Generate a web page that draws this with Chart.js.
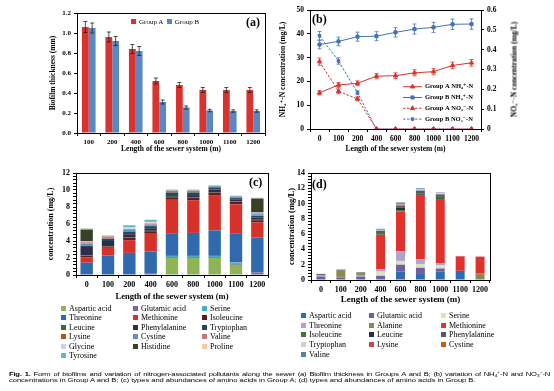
<!DOCTYPE html>
<html>
<head>
<meta charset="utf-8">
<script src="https://cdn.jsdelivr.net/npm/chart.js@4.4.1/dist/chart.umd.min.js"></script>
<style>
  body { margin: 0; width: 554px; height: 391px; background: #fff; position: relative; overflow: hidden;
         font-family: "Liberation Serif", "DejaVu Serif", serif; color: #000; }
  canvas { position: absolute; }
  .tag { position: absolute; font-weight: bold; font-size: 12px; line-height: 12px; }
  .legend { position: absolute; display: grid; font-size: 8px; line-height: 9.6px; white-space: nowrap; }
  .m { display: inline-block; width: 5px; height: 5px; margin-right: 3px; }
  .legA { position: absolute; font-size: 7px; line-height: 8px; white-space: nowrap; }
  .ytitle { position: absolute; font-weight: bold; font-size: 7.5px; text-align: center; white-space: nowrap; transform: rotate(-90deg); }
  .caption { position: absolute; left: 9px; width: 541px; font-family: "Liberation Sans", sans-serif; font-size: 7.6px; line-height: 7px;
             white-space: nowrap; transform: scaleY(0.82); transform-origin: top left; }
</style>
</head>
<body>
<canvas id="chartA" width="277" height="158" style="left:0;top:0"></canvas>
<canvas id="chartB" width="277" height="158" style="left:277px;top:0"></canvas>
<canvas id="chartC" width="277" height="146" style="left:0;top:160px"></canvas>
<canvas id="chartD" width="277" height="150" style="left:277px;top:160px"></canvas>

<div class="tag" style="left:246px;top:16px">(a)</div>
<div class="tag" style="left:312px;top:13px">(b)</div>
<div class="tag" style="left:249px;top:176px">(c)</div>
<div class="tag" style="left:312px;top:178px">(d)</div>

<div class="legA" style="left:131px;top:18px"><span class="m" style="background:#d9332f"></span>Group A&nbsp;&nbsp;<span class="m" style="background:#5b87c3"></span>Group B</div>
<div class="ytitle" style="left:449px;top:65px;width:130px">NO₃⁻-N concentration (mg/L)</div>

<div id="legendC" class="legend" style="left:61px;top:303.5px;grid-template-columns:72px 69px 70px"></div>
<div id="legendD" class="legend" style="left:301px;top:310.8px;grid-template-columns:68px 72px 80px;line-height:9.8px"></div>

<div class="caption" style="top:371px;text-align:justify;text-align-last:justify;white-space:normal;letter-spacing:-0.2px"><b>Fig. 1.</b> Form of biofilms and variation of nitrogen-associated pollutants along the sewer (a) Biofilm thickness in Groups A and B; (b) variation of NH₄⁺-N and NO₃⁻-N</div>
<div class="caption" style="top:377px;letter-spacing:-0.05px">concentrations in Group A and B; (c) types and abundances of amino acids in Group A; (d) types and abundances of amino acids in Group B.</div>

<script>
// ---- data ----
const lengthsA = ['100', '200', '400', '600', '800', '1000', '1100', '1200'];
const thicknessA = [1.06, 0.96, 0.84, 0.52, 0.48, 0.43, 0.43, 0.43];
const thicknessErrA = [0.055, 0.05, 0.045, 0.03, 0.025, 0.025, 0.025, 0.025];
const thicknessB = [1.05, 0.92, 0.82, 0.31, 0.255, 0.225, 0.22, 0.22];
const thicknessErrB = [0.05, 0.045, 0.045, 0.02, 0.015, 0.012, 0.012, 0.012];

const lengths = ['0', '100', '200', '400', '600', '800', '1000', '1100', '1200'];
const nh4A = [15.2, 18.5, 19.2, 22.2, 22.4, 23.6, 24.1, 26.7, 27.8];
const nh4ErrA = [0.9, 1.0, 1.0, 1.1, 1.2, 1.3, 1.3, 1.4, 1.4];
const nh4B = [35.5, 36.8, 38.8, 39.0, 40.6, 42.0, 42.7, 44.0, 44.1];
const nh4ErrB = [1.8, 1.8, 1.9, 1.9, 2.0, 2.1, 2.1, 2.2, 2.2];
const no3A = [0.34, 0.19, 0.152, 0, 0, 0, 0, 0, 0];
const no3ErrA = [0.018, 0.012, 0.01, 0, 0, 0, 0, 0, 0];
const no3B = [0.47, 0.343, 0.183, 0, 0, 0, 0, 0, 0];
const no3ErrB = [0.022, 0.016, 0.01, 0, 0, 0, 0, 0, 0];

// (c) amino acids, Group A
const cAspartic = [0, 0, 0, 0, 2.0, 2.0, 2.0, 1.2, 0];
const cGlutamic = [0, 0, 0, 0.15, 0.1, 0.1, 0.1, 0.1, 0.3];
const cSerine = [0, 0, 0, 0, 0.15, 0.15, 0.15, 0.2, 0];
const cThreonine = [1.45, 2.3, 2.6, 2.6, 2.6, 2.7, 3.0, 3.35, 4.1];
const cMethionine = [0.6, 0.9, 1.5, 2.1, 4.0, 3.85, 4.15, 3.45, 1.8];
const cIsoleucine = [0.2, 0.15, 0.3, 0.3, 0.3, 0.3, 0.3, 0.3, 0.25];
const cLeucine = [0.05, 0.05, 0.05, 0.05, 0.05, 0.05, 0.05, 0.05, 0.05];
const cPhenylalanine = [1.0, 0.6, 0.35, 0.3, 0.2, 0.25, 0.3, 0.2, 0.25];
const cTryptophan = [0.15, 0.25, 0.3, 0.25, 0.3, 0.3, 0.25, 0.2, 0.2];
const cLysine = [0.05, 0.05, 0.05, 0.05, 0.05, 0.05, 0.05, 0.05, 0.05];
const cCystine = [0.2, 0.15, 0.15, 0.15, 0.15, 0.15, 0.1, 0.15, 0.15];
const cValine = [0.15, 0.1, 0.1, 0.1, 0.05, 0.05, 0.05, 0.05, 0.1];
const cGlycine = [0.1, 0.05, 0.1, 0.1, 0.05, 0.05, 0.05, 0, 0.1];
const cHistidine = [1.4, 0, 0, 0, 0, 0, 0, 0, 1.65];
const cProline = [0.1, 0.1, 0.1, 0.1, 0.1, 0.1, 0.05, 0.05, 0.1];
const cTyrosine = [0.05, 0, 0.25, 0.25, 0, 0, 0, 0, 0];

// (d) amino acids, Group B
const dAspartic = [0, 0, 0, 0, 1.1, 0.9, 1.1, 1.2, 0];
const dGlutamic = [0.45, 0.35, 0.45, 0.55, 0.9, 0.7, 0.4, 0, 0];
const dSerine = [0, 0, 0, 0.55, 0.5, 0.5, 0.4, 0, 0];
const dThreonine = [0.1, 0.05, 0.2, 0.3, 1.25, 0.6, 0.3, 0, 0];
const dAlanine = [0.05, 0.8, 0.15, 0, 0, 0, 0, 0, 0.9];
const dMethionine = [0, 0, 0, 4.5, 5.2, 8.3, 8.4, 1.9, 2.15];
const dIsoleucine = [0.05, 0.05, 0.05, 0.1, 0.2, 0.15, 0.15, 0, 0];
const dLeucine = [0.05, 0.05, 0.05, 0.1, 0.3, 0.15, 0.15, 0, 0];
const dPhenylalanine = [0.1, 0.05, 0.1, 0.35, 0.3, 0.4, 0.3, 0, 0];
const dTryptophan = [0, 0.05, 0, 0.1, 0.1, 0.2, 0.15, 0.05, 0.05];
const dLysine = [0, 0, 0, 0.05, 0.1, 0, 0.05, 0, 0];
const dCystine = [0, 0, 0, 0.05, 0.1, 0, 0, 0, 0];
const dValine = [0, 0, 0, 0.05, 0.1, 0.1, 0.05, 0, 0];

const seriesC = [
    ['Aspartic acid', cAspartic, '#8fb457'], ['Glutamic acid', cGlutamic, '#7a63a6'], ['Serine', cSerine, '#4bacc6'],
    ['Threonine', cThreonine, '#2e6aad'], ['Methionine', cMethionine, '#d7312b'], ['Isoleucine', cIsoleucine, '#5e1f1f'],
    ['Leucine', cLeucine, '#3e6b32'], ['Phenylalanine', cPhenylalanine, '#2f2c4e'], ['Tryptophan', cTryptophan, '#1d4d5a'],
    ['Lysine', cLysine, '#b5551d'], ['Cystine', cCystine, '#6b8cbf'], ['Valine', cValine, '#c27a78'],
    ['Glycine', cGlycine, '#c5d4e8'], ['Histidine', cHistidine, '#3a3f28'], ['Proline', cProline, '#f8c9a0'],
    ['Tyrosine', cTyrosine, '#5fb8c9']
];
const seriesD = [
    ['Aspartic acid', dAspartic, '#2e6bb0'], ['Glutamic acid', dGlutamic, '#6f5ea3'], ['Serine', dSerine, '#d8e6c0'],
    ['Threonine', dThreonine, '#b2a3cc'], ['Alanine', dAlanine, '#8a8a4a'], ['Methionine', dMethionine, '#e0312c'],
    ['Isoleucine', dIsoleucine, '#3f7a30'], ['Leucine', dLeucine, '#2b2a4f'], ['Phenylalanine', dPhenylalanine, '#595959'],
    ['Tryptophan', dTryptophan, '#d0d0d0'], ['Lysine', dLysine, '#c24b48'], ['Cystine', dCystine, '#c0601c'],
    ['Valine', dValine, '#4f81bd']
];

// ---- helpers ----
Chart.defaults.font.family = '"Liberation Serif", "DejaVu Serif", serif';
Chart.defaults.font.weight = 'bold';
Chart.defaults.color = '#000';
Chart.defaults.animation = false;
Chart.defaults.plugins.legend.display = false;
Chart.defaults.plugins.tooltip.enabled = false;

const fixW = w => s => { s.width = w; };
const fixH = h => s => { s.height = h; };

const plotBox = {
    id: 'plotBox',
    afterDraw(chart) {
        const a = chart.chartArea, ctx = chart.ctx;
        ctx.save();
        ctx.strokeStyle = '#000';
        ctx.lineWidth = 1;
        ctx.strokeRect(a.left + 0.5, a.top + 0.5, a.right - a.left, a.bottom - a.top);
        ctx.restore();
    }
};

const errorBars = {
    id: 'errorBars',
    afterDatasetsDraw(chart) {
        const ctx = chart.ctx;
        chart.data.datasets.forEach((ds, i) => {
            if (!ds.errors) return;
            const meta = chart.getDatasetMeta(i);
            const sc = chart.scales[meta.yAxisID];
            ctx.save();
            ctx.strokeStyle = ds.errorColor || '#222';
            ctx.lineWidth = 0.8;
            meta.data.forEach((el, j) => {
                const e = ds.errors[j];
                if (!e) return;
                const v = ds.data[j];
                const y1 = sc.getPixelForValue(v + e), y2 = sc.getPixelForValue(v - e);
                const x = el.x, w = 2;
                ctx.beginPath();
                ctx.moveTo(x, y1); ctx.lineTo(x, y2);
                ctx.moveTo(x - w, y1); ctx.lineTo(x + w, y1);
                ctx.moveTo(x - w, y2); ctx.lineTo(x + w, y2);
                ctx.stroke();
            });
            ctx.restore();
        });
    }
};

// legend of (b), drawn inside the plot
const lineLegend = {
    id: 'lineLegend',
    afterDraw(chart) {
        const ctx = chart.ctx;
        ctx.save();
        ctx.font = 'bold 6.5px "Liberation Serif", "DejaVu Serif", serif';
        ctx.textBaseline = 'middle';
        chart.data.datasets.forEach((ds, i) => {
            const y = 86.7 + i * 10.8;
            ctx.strokeStyle = ds.borderColor;
            ctx.lineWidth = 1;
            ctx.setLineDash(ds.borderDash || []);
            ctx.beginPath();
            ctx.moveTo(126, y); ctx.lineTo(145, y);
            ctx.stroke();
            ctx.setLineDash([]);
            ctx.fillStyle = ds.borderColor;
            Chart.helpers.drawPoint(ctx, { pointStyle: ds.pointStyle, radius: ds.pointRadius, borderWidth: 1 }, 135.5, y);
            ctx.fillStyle = '#000';
            ctx.fillText(ds.label, 148, y);
        });
        ctx.restore();
    }
};

const RED = '#d9332f';
const BLUE = '#4672b4';

// ---- (a) ----
new Chart(document.getElementById('chartA'), {
    type: 'bar',
    data: {
        labels: lengthsA,
        datasets: [
            { label: 'Group A', data: thicknessA, errors: thicknessErrA, backgroundColor: RED, categoryPercentage: 0.58, barPercentage: 1 },
            { label: 'Group B', data: thicknessB, errors: thicknessErrB, backgroundColor: '#5b87c3', categoryPercentage: 0.58, barPercentage: 1 }
        ]
    },
    options: {
        responsive: false, devicePixelRatio: 1,
        layout: { padding: { left: 49, right: 12, top: 13, bottom: 4 } },
        scales: {
            x: {
                grid: { drawOnChartArea: false, offset: true, tickLength: 3, color: '#000' },
                border: { color: '#000' },
                ticks: { font: { size: 7 }, padding: 2, maxRotation: 0, autoSkip: false },
                title: { display: true, text: 'Length of the sewer system (m)', font: { size: 7.5 }, padding: 0 },
                afterFit: fixH(21)
            },
            y: {
                min: 0, max: 1.2,
                grid: { drawOnChartArea: false, tickLength: 3, color: '#000' },
                border: { color: '#000' },
                ticks: { stepSize: 0.2, callback: v => v.toFixed(1), font: { size: 7 }, padding: 3 },
                title: { display: true, text: 'Biofilm thickness (mm)', font: { size: 7.5 }, padding: 0 },
                afterFit: fixW(28)
            }
        }
    },
    plugins: [plotBox, errorBars]
});

// ---- (b) ----
new Chart(document.getElementById('chartB'), {
    type: 'line',
    data: {
        labels: lengths,
        datasets: [
            { label: 'Group A NH₄⁺-N', data: nh4A, errors: nh4ErrA, errorColor: RED, yAxisID: 'y',
              borderColor: RED, backgroundColor: RED, pointStyle: 'triangle', pointRadius: 2.5, borderWidth: 1 },
            { label: 'Group B NH₄⁺-N', data: nh4B, errors: nh4ErrB, errorColor: BLUE, yAxisID: 'y',
              borderColor: BLUE, backgroundColor: BLUE, pointStyle: 'rect', pointRadius: 2.2, borderWidth: 1 },
            { label: 'Group A NO₃⁻-N', data: no3A, errors: no3ErrA, errorColor: RED, yAxisID: 'y2',
              borderColor: RED, backgroundColor: RED, borderDash: [2.5, 1.5], pointStyle: 'triangle', pointRadius: 2.5, borderWidth: 1 },
            { label: 'Group B NO₃⁻-N', data: no3B, errors: no3ErrB, errorColor: BLUE, yAxisID: 'y2',
              borderColor: BLUE, backgroundColor: BLUE, borderDash: [2.5, 1.5], pointStyle: 'rect', pointRadius: 1.8, borderWidth: 1 }
        ]
    },
    options: {
        responsive: false, devicePixelRatio: 1,
        layout: { padding: { left: 2, right: 36, top: 10, bottom: 4 } },
        scales: {
            x: {
                offset: true,
                grid: { drawOnChartArea: false, offset: true, tickLength: 3, color: '#000' },
                border: { color: '#000' },
                ticks: { font: { size: 7.5 }, padding: 3, maxRotation: 0, autoSkip: false },
                title: { display: true, text: 'Length of the sewer system (m)', font: { size: 7.5 }, padding: 0 },
                afterFit: fixH(25)
            },
            y: {
                position: 'left', min: 0, max: 50,
                grid: { drawOnChartArea: false, tickLength: 3, color: '#000' },
                border: { color: '#000' },
                ticks: { stepSize: 5, font: { size: 7.5 }, padding: 3 },
                title: { display: true, text: 'NH₄⁺-N concentration (mg/L)', font: { size: 7.5 }, padding: 0 },
                afterFit: fixW(31)
            },
            y2: {
                position: 'right', min: 0, max: 0.6,
                grid: { drawOnChartArea: false, tickLength: 3, color: '#000' },
                border: { color: '#000' },
                ticks: { stepSize: 0.1, callback: v => v === 0 ? '0' : v.toFixed(1), font: { size: 7.5 }, padding: 3 },
                afterFit: fixW(37)
            }
        }
    },
    plugins: [plotBox, errorBars, lineLegend]
});

// ---- (c) and (d) ----
const minorTickLabel = v => {
    const r = Math.round(v * 10);
    return r % 20 === 0 ? String(r / 10) : '';
};

function stackedChart(id, series, opts) {
    return new Chart(document.getElementById(id), {
        type: 'bar',
        data: {
            labels: lengths,
            datasets: series.map(([name, values, color]) => ({
                label: name, data: values, backgroundColor: color,
                categoryPercentage: opts.catPct, barPercentage: 1
            }))
        },
        options: {
            responsive: false, devicePixelRatio: 1,
            layout: { padding: opts.padding },
            scales: {
                x: {
                    stacked: true,
                    grid: { drawOnChartArea: false, offset: true, tickLength: 3, color: '#000' },
                    border: { color: '#000' },
                    ticks: { font: { size: opts.tickSize }, padding: 2, maxRotation: 0, autoSkip: false },
                    title: { display: true, text: 'Length of the sewer system (m)', font: { size: opts.titleSize }, padding: 0 },
                    afterFit: fixH(opts.xHeight)
                },
                y: {
                    stacked: true, min: 0, max: opts.max,
                    grid: { drawOnChartArea: false, tickLength: 3, color: '#000' },
                    border: { color: '#000' },
                    ticks: { stepSize: 0.4, autoSkip: false, callback: minorTickLabel, font: { size: opts.tickSize }, padding: 3 },
                    title: { display: true, text: 'concentration (mg/L)', font: { size: opts.yTitleSize }, padding: 0 },
                    afterFit: fixW(opts.yWidth)
                }
            }
        },
        plugins: [plotBox]
    });
}

stackedChart('chartC', seriesC, {
    catPct: 0.58, max: 12, tickSize: 8, titleSize: 8.5, yTitleSize: 8, xHeight: 27, yWidth: 30,
    padding: { left: 46, right: 9, top: 13, bottom: 4 }
});
stackedChart('chartD', seriesD, {
    catPct: 0.45, max: 14, tickSize: 8, titleSize: 9, yTitleSize: 8.5, xHeight: 25, yWidth: 24,
    padding: { left: 10, right: 64, top: 13, bottom: 5 }
});

function fillLegend(el, series) {
    series.forEach(([name, , color]) => {
        const item = document.createElement('div');
        item.innerHTML = `<span class="m" style="background:${color}"></span>${name}`;
        el.appendChild(item);
    });
}
fillLegend(document.getElementById('legendC'), seriesC);
fillLegend(document.getElementById('legendD'), seriesD);
</script>
</body>
</html>
